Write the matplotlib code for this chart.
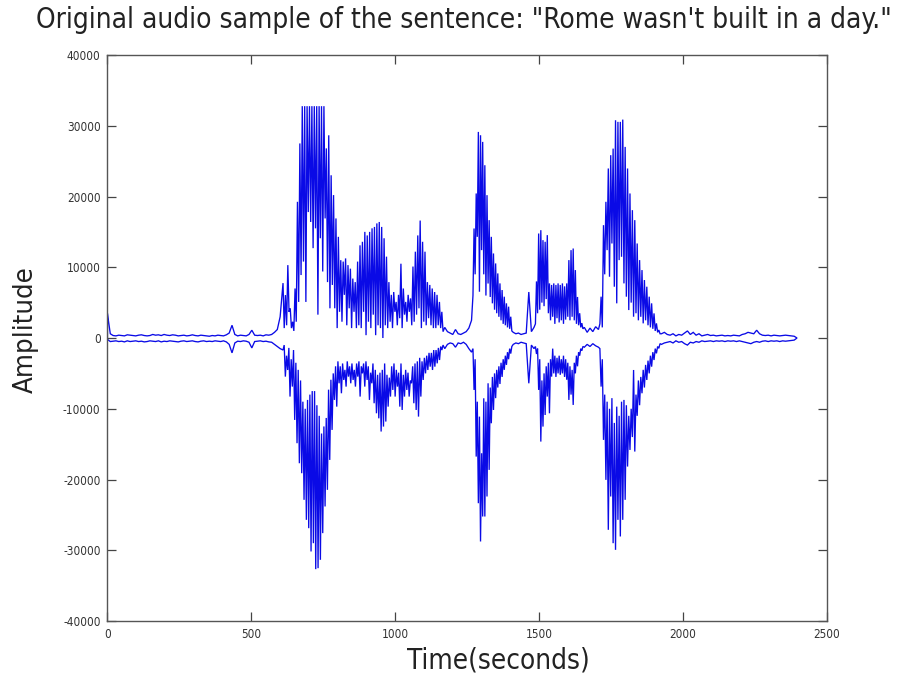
import numpy as np
import matplotlib
matplotlib.use("Agg")
import matplotlib.pyplot as plt

# ---- waveform data -------------------------------------------------------
# Each segment: (start sample, end sample, amplitudes). Samples inside a
# segment are evenly spaced; voiced segments alternate pulse peak / trough.

# positive excursions
s0_up = [3400, 600, 350, 300, 400, 350, 300, 450, 400, 350, 300, 400, 450, 350,
         300, 350, 500, 400, 450, 350, 500, 400, 350, 450, 400, 300, 350, 400,
         300, 350, 450, 350, 300, 400, 350, 300, 250, 350, 300, 400, 350, 300,
         450, 700, 1800, 500, 300, 400, 350, 300, 500, 1100, 400, 350, 400, 300,
         450, 400, 500, 800, 1200, 3000]

v1_up_peaks = [7760, 6070, 10300, 4200, 2300, 7000, 19250, 27500,
               32767, 32767, 32767, 32767, 32767, 32767, 32767, 32767, 32767, 32767,
               26800, 28650, 23000, 20200, 16900, 14300, 11000, 10800, 11250, 10300,
               9800, 8400, 7900, 10800, 13100, 13600, 15000, 14500, 15000, 15500,
               15700, 16200, 16400, 15700, 14100, 11500, 7900, 6100, 6500, 5100,
               6100, 10500, 7000, 5100, 6100, 5600, 10100, 12200, 14500, 16600,
               13600, 12200, 7900, 7500, 7000, 6500, 6100, 5100, 3700]
v1_up_dips = [1400, 1800, 3700, 1400, 1000, 2300,
              5100, 8900, 10800, 5100, 17800, 16400, 12700, 15500, 3300, 14100,
              9400, 16900, 7900, 4200,
              7500, 4200, 1400, 3700, 2300, 6100, 1800, 4200, 1400, 3700, 1400,
              1800, 1400, 3700, 400, 2300, 1400, 3300, 400, 1800, 1400, 0, 1800,
              1400, 2300,
              1400, 3700, 1800, 2800, 1400, 3300, 2300, 3700, 1800,
              2300, 3300, 4200, 1400, 2300, 1800, 2800, 1800, 1400, 1400, 1800,
              1400, 900]

s1_up = [1500, 900, 700, 500, 1200, 600, 500, 700, 900, 1400, 2500]

v2_up = [6000, 15480, 9000, 20430, 14300, 29130, 6540, 28660, 12420, 27720,
         9000, 24420, 6000, 20190, 7700, 16660, 5800, 14300, 4900, 11950, 4000,
         10540, 3500, 9130, 3000, 7720, 2500, 6780, 2000, 5840, 1800, 4900, 1500,
         4430, 1300, 3010, 1000]

s2_up = [800, 600, 700, 500, 600, 700, 6500, 900, 1500]

v3_up = [2000, 8000, 3500, 14770, 4000, 15240, 5000, 13830, 4500, 13600, 5500,
         14540, 3500, 7720, 2500, 7500, 3000, 7720, 2000, 7500, 2800, 7720, 2200,
         7500, 2500, 7720, 2000, 7300, 2600, 7720, 3000, 11010, 2500, 12420, 3000,
         12650, 2500, 9600, 2000, 5800, 1800, 3500, 1500, 2100, 1300]

s3_up = [1500, 800, 1400, 900, 1600, 1200]

v4_up = [2000, 5840, 1500, 15950, 9000, 19250, 12420, 23960, 8660, 25840, 13360,
         26770, 7250, 30780, 4900, 30550, 11010, 30550, 11480, 30870, 7720, 27010,
         5840, 23960, 3950, 20430, 5000, 18070, 3010, 16660, 3500, 13360, 2500,
         11010, 3000, 9600, 2070, 8190, 2500, 7250, 1800, 5840, 1500, 4900, 1300,
         3480, 1000, 2070, 800, 1130, 600]

s4_up = [600, 800, 500, 400, 600, 300, 500, 400, 700, 1000, 500, 800, 400, 600,
         300, 400, 500, 350, 400, 300, 350, 400, 300, 350, 300, 400, 350, 300,
         500, 600, 800, 700, 600, 1100, 600, 400, 350, 400, 300, 400, 350, 300,
         350, 400, 350, 300, 250, 0]

# negative excursions
s0_lo = [-200, -500, -450, -400, -500, -450, -550, -400, -500, -450, -400, -500,
         -450, -550, -500, -400, -450, -500, -400, -550, -450, -500, -400, -450,
         -500, -550, -450, -400, -500, -450, -400, -500, -550, -450, -400, -500,
         -450, -500, -400, -450, -500, -400, -550, -900, -2100, -700, -450, -500,
         -400, -450, -600, -1400, -500, -450, -400, -500, -450, -550, -600, -900,
         -1200, -1500]

v1_lo_peaks = [-1700, -5460, -4520, -8280, -6870, -11580, -14870, -17700, -19110, -22870,
               -25700, -26880, -30170, -29000, -32670, -32530, -31350, -27580, -23810, -21460,
               -17230, -12990, -8750, -9700, -6400, -7810, -5930, -6870, -5460, -6400,
               -5930, -6870, -5460, -8280, -5000, -6870, -5930, -8750, -6400, -9220,
               -10640, -11350, -13220, -12520, -11810, -9700, -8280, -7340, -8280, -6870,
               -9700, -10170, -8280, -7340, -8280, -6400, -9220, -10170, -11110, -8280,
               -5930, -5000, -4520, -4050, -4520, -4050, -3580, -3110, -1700]
v1_lo_dips = [-1000, -2500, -1400, -3000, -1700, -3500,
              -4500, -6000, -9000, -10000, -8750, -8000, -7500, -7500, -9500, -11000,
              -13500, -12500, -11300, -7300, -5900, -5000,
              -4000, -3300, -4000, -3600, -4500, -3300, -4000, -3600, -4500, -3600,
              -3300, -4000, -3600, -3300, -4000, -4900, -3600, -4500, -5200, -4900,
              -4500, -3600, -5200, -5600, -4000, -3600, -4500, -4900, -3600, -5200,
              -4500, -4900, -6000, -4000, -3600, -3300, -2800, -3300, -2800, -2500,
              -2100, -2100, -1700, -1700, -1400, -1200, -1000]

s1_lo = [-1500, -900, -700, -800, -1300, -700, -800, -600, -900, -1500, -2000]

v2_lo = [-1500, -7340, -3000, -16760, -9000, -23350, -11110, -28760, -16290, -25230,
         -8520, -25230, -9000, -22400, -6400, -18640, -7000, -12050, -5500, -10170,
         -5000, -8500, -4500, -7000, -4000, -6500, -3500, -5500, -3000, -4500, -2500,
         -3800, -2000, -3000, -1500, -2200, -1200]

s2_lo = [-900, -700, -800, -600, -700, -800, -6400, -1000, -1500]

v3_lo = [-1200, -2260, -1500, -7340, -3000, -14640, -6000, -12520, -5000, -10880,
         -4000, -8280, -3500, -10640, -3000, -5460, -1500, -5000, -2500, -5500, -2800,
         -5000, -2500, -5200, -3000, -5000, -2500, -5500, -3000, -5900, -3500, -8750,
         -4000, -8000, -4500, -9460, -3500, -5000, -2500, -4000, -2000, -2500, -1500,
         -1800, -1200]

s3_lo = [-1300, -900, -1200, -800, -1100, -1300]

v4_lo = [-1500, -6870, -3000, -14400, -8000, -20050, -9000, -27110, -10000, -22400,
         -8500, -29000, -12000, -29940, -9700, -25700, -11000, -28050, -9000, -25700,
         -8750, -22870, -9500, -18170, -11000, -15820, -10000, -14000, -4520, -16050,
         -8000, -11000, -6000, -9500, -5500, -7810, -4500, -7000, -3800, -5930, -3200,
         -5000, -2500, -4050, -2000, -3110, -1500, -2170, -1200, -1460, -800]

s4_lo = [-900, -700, -600, -500, -700, -400, -600, -500, -800, -1000, -600, -700,
         -500, -600, -400, -500, -450, -400, -500, -400, -450, -400, -500, -400,
         -450, -400, -500, -400, -500, -600, -700, -800, -600, -500, -600, -450,
         -400, -500, -400, -450, -400, -500, -400, -450, -400, -350, -300, 0]

# segment boundaries (sample index)
seg_bounds = [(0, 600), (610, 1166), (1172, 1265), (1270, 1405), (1410, 1482),
              (1487, 1652), (1657, 1706), (1711, 1920), (1925, 2396)]

x_ticks = [0, 500, 1000, 1500, 2000, 2500]
y_ticks = [-40000, -30000, -20000, -10000, 0, 10000, 20000, 30000, 40000]

title_text = 'Original audio sample of the sentence: "Rome wasn\'t built in a day."'
x_label = "Time(seconds)"
y_label = "Amplitude"


def interleave(peaks, dips):
    return np.column_stack([peaks, dips]).ravel()


upper_parts = [s0_up, interleave(v1_up_peaks, v1_up_dips), s1_up, v2_up, s2_up,
               v3_up, s3_up, v4_up, s4_up]
lower_parts = [s0_lo, interleave(v1_lo_peaks, v1_lo_dips), s1_lo, v2_lo, s2_lo,
               v3_lo, s3_lo, v4_lo, s4_lo]


def build(parts):
    ts, ys = [], []
    for (a, b), vals in zip(seg_bounds, parts):
        ts.append(np.linspace(a, b, len(vals)))
        ys.append(np.asarray(vals, dtype=float))
    return np.concatenate(ts), np.concatenate(ys)


t_up, y_up = build(upper_parts)
t_lo, y_lo = build(lower_parts)

# one continuous trace: along the top, back along the bottom
t_all = np.concatenate([t_up, t_lo[::-1], t_up[:1]])
y_all = np.concatenate([y_up, y_lo[::-1], y_up[:1]])

# ---- figure --------------------------------------------------------------
plt.rcParams["font.family"] = ["DejaVu Sans"]
plt.rcParams["font.stretch"] = "condensed"
fig = plt.figure(figsize=(9.03, 6.79), dpi=100)
ax = fig.add_axes([0.119, 0.0854, 0.7968, 0.8336])

ax.plot(t_all, y_all, color="#0a0ae6", linewidth=0.95, solid_joinstyle="miter")

ax.set_xlim(0, 2500)
ax.set_ylim(-40000, 40000)
ax.set_xticks(x_ticks)
ax.set_yticks(y_ticks)
ax.set_xticklabels([str(v) for v in x_ticks])
ax.set_yticklabels([str(v) for v in y_ticks])

ax.tick_params(direction="in", length=6.5, width=0.9, colors="#444444",
               labelcolor="#333333", labelsize=8.5, top=True, right=True, pad=5)
for sp in ax.spines.values():
    sp.set_color("#555555")
    sp.set_linewidth(1.0)

W, H = 903.0, 679.0
t_title = fig.text(463.5 / W, 1 - 20 / H, title_text, fontsize=18,
                   color="#222222", ha="center", va="center")
t_xlab = fig.text(498 / W, 1 - 661 / H, x_label, fontsize=18,
                  color="#222222", ha="center", va="center")
t_ylab = fig.text(26 / W, 1 - 330 / H, y_label, fontsize=18, rotation=90,
                  color="#222222", ha="center", va="center")

# scale the big labels to their target extents in pixels
fig.canvas.draw()
for txt, target, dim in [(t_title, 853, "w"), (t_xlab, 183, "w"), (t_ylab, 126, "h")]:
    bb = txt.get_window_extent()
    size = bb.width if dim == "w" else bb.height
    txt.set_fontsize(txt.get_fontsize() * target / size)

fig.savefig("out.png", dpi=100)
